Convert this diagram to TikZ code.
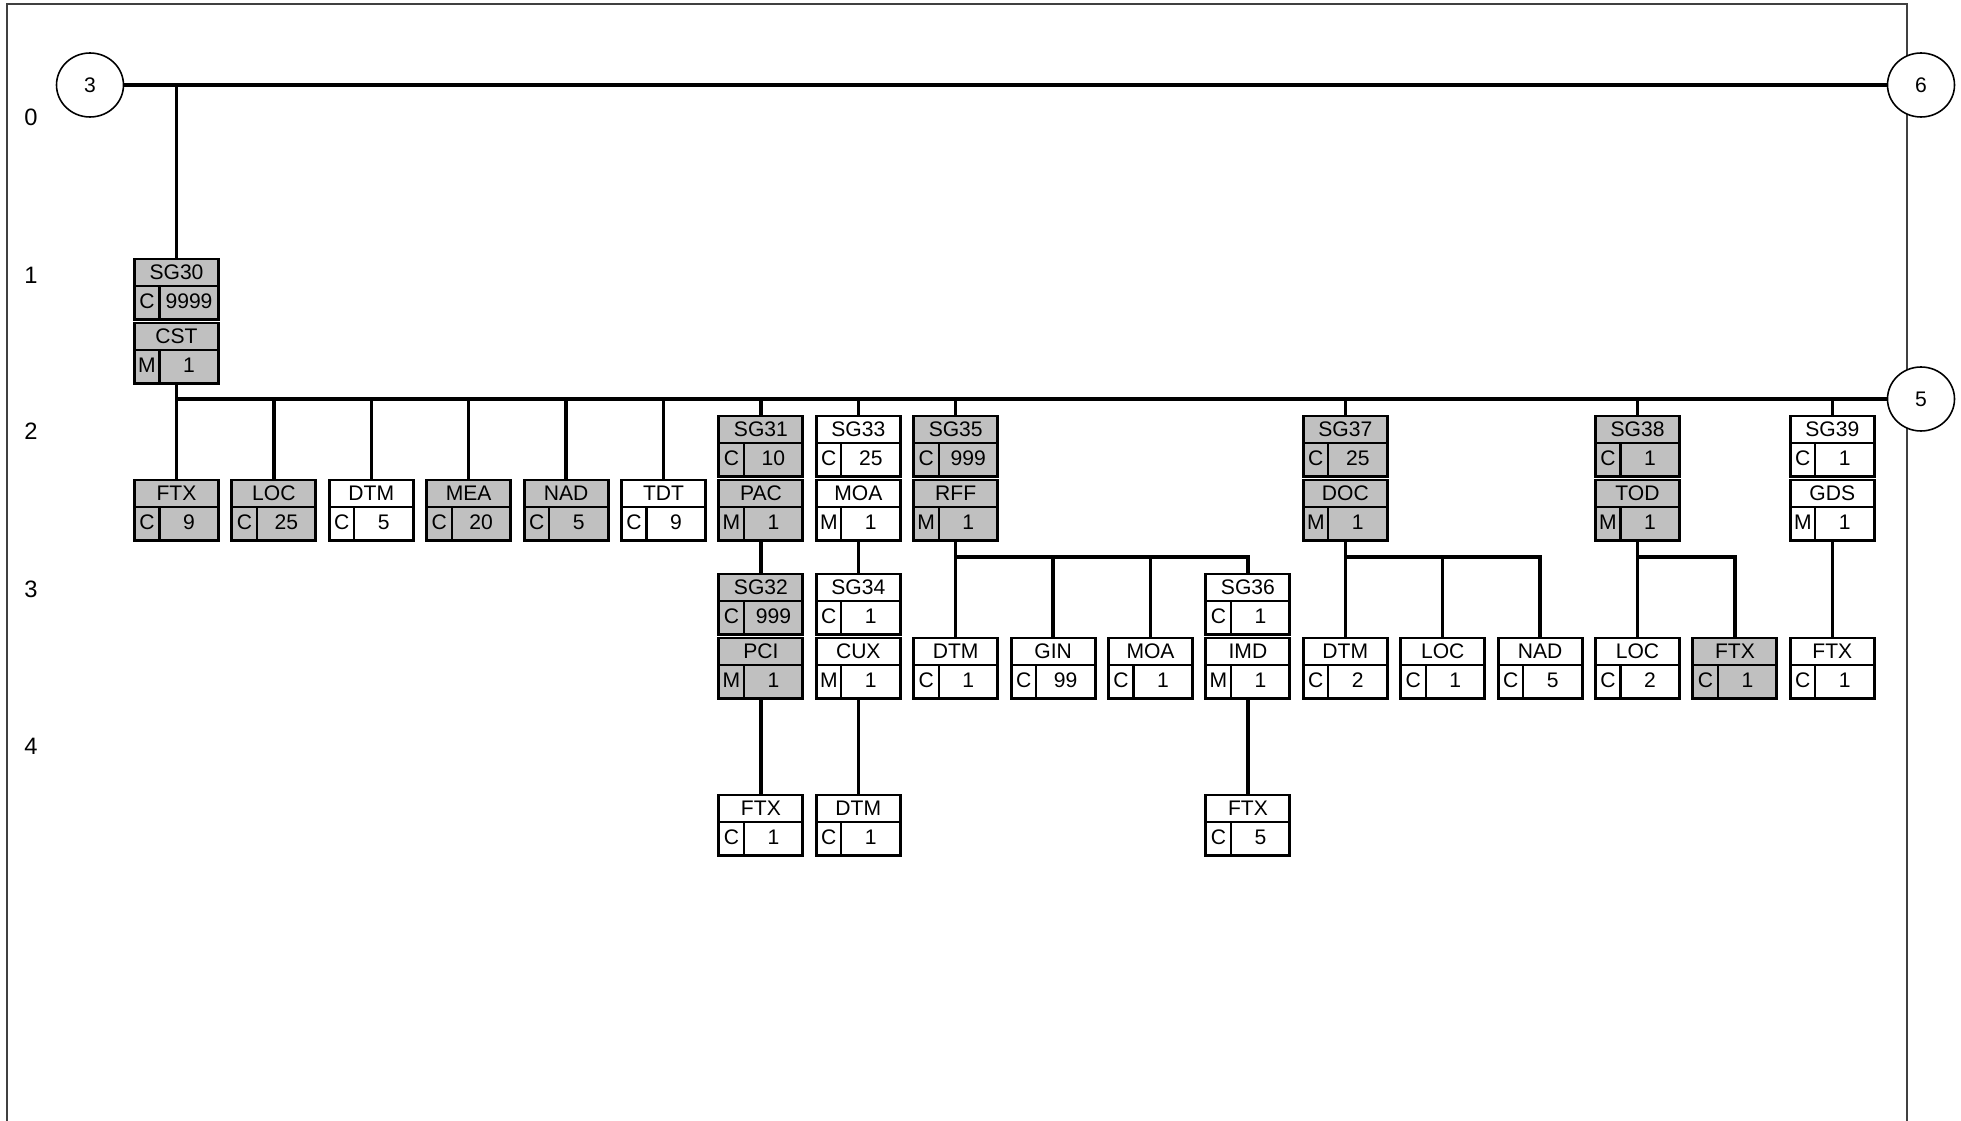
\documentclass[tikz,border=0pt]{standalone}
\usepackage{fontspec}
\setmainfont{Liberation Sans}
\usetikzlibrary{shapes.geometric}
\definecolor{segfill}{HTML}{C0C0C0}
\definecolor{framegray}{HTML}{404040}

% one segment / group box: name, x, top, tag, status, repeats, fill
\newcommand{\segbox}[7]{%
  \node[segbox, fill=#7] (#1) at (#2,#3) {};
  \draw[rowline] (#1.north west) ++(0,27) -- ++(84,0);
  \draw[rowline] (#1.north west) ++(25,27) -- ++(0,34);
  \path (#1.north) ++(0,13) node[boxtext] {#4};
  \path (#1.north west) ++(12.5,42) node[boxtext] {#5} ++(42,0) node[boxtext] {#6};
}

\tikzset{
  segbox/.style={draw, rectangle, line width=1.7pt, anchor=north, minimum width=1.68cm, minimum height=1.22cm, inner sep=0, outer sep=0},
  rowline/.style={line width=1.2pt},
  boxtext/.style={font=\fontsize{12}{14}\selectfont, inner sep=0},
  conn/.style={line width=1.9pt},
  linkcirc/.style={draw, ellipse, line width=0.9pt, fill=white, minimum width=1.34cm, minimum height=1.28cm, inner sep=0, font=\fontsize{12}{14}\selectfont},
  lvl/.style={font=\fontsize{13.5}{16}\selectfont, inner sep=0},
  frame/.style={framegray, line width=0.7pt}
}

\begin{document}
\begin{tikzpicture}[x=0.02cm, y=-0.02cm]
\useasboundingbox (0,0) rectangle (1961,1121);

% Frame
\draw[frame] (7,1121) -- (7,4) -- (1907,4) -- (1907,1121);

% Level numbers
\foreach \lv/\ly in {0/117, 1/275, 2/431, 3/589, 4/746}
  \node[lvl] (lv\lv) at (31,\ly) {\lv};

% Link circles
\node[linkcirc] (c3) at (90,85) {3};
\node[linkcirc] (c6) at (1921,85) {6};
\node[linkcirc] (c5) at (1921,399) {5};

% ---------- Level 1 ----------
\segbox{sg30}{176.5}{259}{SG30}{C}{9999}{segfill}
\segbox{cst}{176.5}{323}{CST}{M}{1}{segfill}

% ---------- Level 2 ----------
\segbox{ftx0}{176.5}{480}{FTX}{C}{9}{segfill}
\segbox{loc1}{273.9}{480}{LOC}{C}{25}{segfill}
\segbox{dtm2}{371.3}{480}{DTM}{C}{5}{white}
\segbox{mea3}{468.7}{480}{MEA}{C}{20}{segfill}
\segbox{nad4}{566.1}{480}{NAD}{C}{5}{segfill}
\segbox{tdt5}{663.5}{480}{TDT}{C}{9}{white}
\segbox{sg31}{760.9}{416}{SG31}{C}{10}{segfill}
\segbox{pac}{760.9}{480}{PAC}{M}{1}{segfill}
\segbox{sg33}{858.3}{416}{SG33}{C}{25}{white}
\segbox{moa7}{858.3}{480}{MOA}{M}{1}{white}
\segbox{sg35}{955.7}{416}{SG35}{C}{999}{segfill}
\segbox{rff}{955.7}{480}{RFF}{M}{1}{segfill}
\segbox{sg37}{1345.3}{416}{SG37}{C}{25}{segfill}
\segbox{doc}{1345.3}{480}{DOC}{M}{1}{segfill}
\segbox{sg38}{1637.5}{416}{SG38}{C}{1}{segfill}
\segbox{tod}{1637.5}{480}{TOD}{M}{1}{segfill}
\segbox{sg39}{1832.3}{416}{SG39}{C}{1}{white}
\segbox{gds}{1832.3}{480}{GDS}{M}{1}{white}

% ---------- Level 3 ----------
\segbox{sg32}{760.9}{574}{SG32}{C}{999}{segfill}
\segbox{pci}{760.9}{638}{PCI}{M}{1}{segfill}
\segbox{sg34}{858.3}{574}{SG34}{C}{1}{white}
\segbox{cux}{858.3}{638}{CUX}{M}{1}{white}
\segbox{dtm8}{955.7}{638}{DTM}{C}{1}{white}
\segbox{gin9}{1053.1}{638}{GIN}{C}{99}{white}
\segbox{moa10}{1150.5}{638}{MOA}{C}{1}{white}
\segbox{sg36}{1247.9}{574}{SG36}{C}{1}{white}
\segbox{imd}{1247.9}{638}{IMD}{M}{1}{white}
\segbox{dtm12}{1345.3}{638}{DTM}{C}{2}{white}
\segbox{loc13}{1442.7}{638}{LOC}{C}{1}{white}
\segbox{nad14}{1540.1}{638}{NAD}{C}{5}{white}
\segbox{loc15}{1637.5}{638}{LOC}{C}{2}{white}
\segbox{ftx16}{1734.9}{638}{FTX}{C}{1}{segfill}
\segbox{ftx17}{1832.3}{638}{FTX}{C}{1}{white}

% ---------- Level 4 ----------
\segbox{ftx6}{760.9}{795}{FTX}{C}{1}{white}
\segbox{dtm7}{858.3}{795}{DTM}{C}{1}{white}
\segbox{ftx11}{1247.9}{795}{FTX}{C}{5}{white}

% Connectors
\draw[conn] (c3) -- (c6);
\draw[conn] (sg30) -- (sg30 |- c3);
\draw[conn] (cst) |- (c5);
\foreach \n in {ftx0,loc1,dtm2,mea3,nad4,tdt5,sg31,sg33,sg35,sg37,sg38,sg39}
  \draw[conn] (\n) -- (\n |- c5);
\draw[conn] (pac) -- (sg32);
\draw[conn] (pci) -- (ftx6);
\draw[conn] (moa7) -- (sg34);
\draw[conn] (cux) -- (dtm7);
\draw[conn] (rff) -- (dtm8);
\draw[conn] (imd) -- (ftx11);
\draw[conn] (doc) -- (dtm12);
\draw[conn] (tod) -- (loc15);
\draw[conn] (gds) -- (ftx17);

% Branch lines on level 3
\coordinate (bus3) at (0,557);
\draw[conn] (rff.south |- bus3) -| (sg36);
\draw[conn] (doc.south |- bus3) -| (nad14);
\draw[conn] (tod.south |- bus3) -| (ftx16);
\foreach \n in {gin9,moa10,loc13}
  \draw[conn] (\n) -- (\n |- bus3);

\end{tikzpicture}
\end{document}
